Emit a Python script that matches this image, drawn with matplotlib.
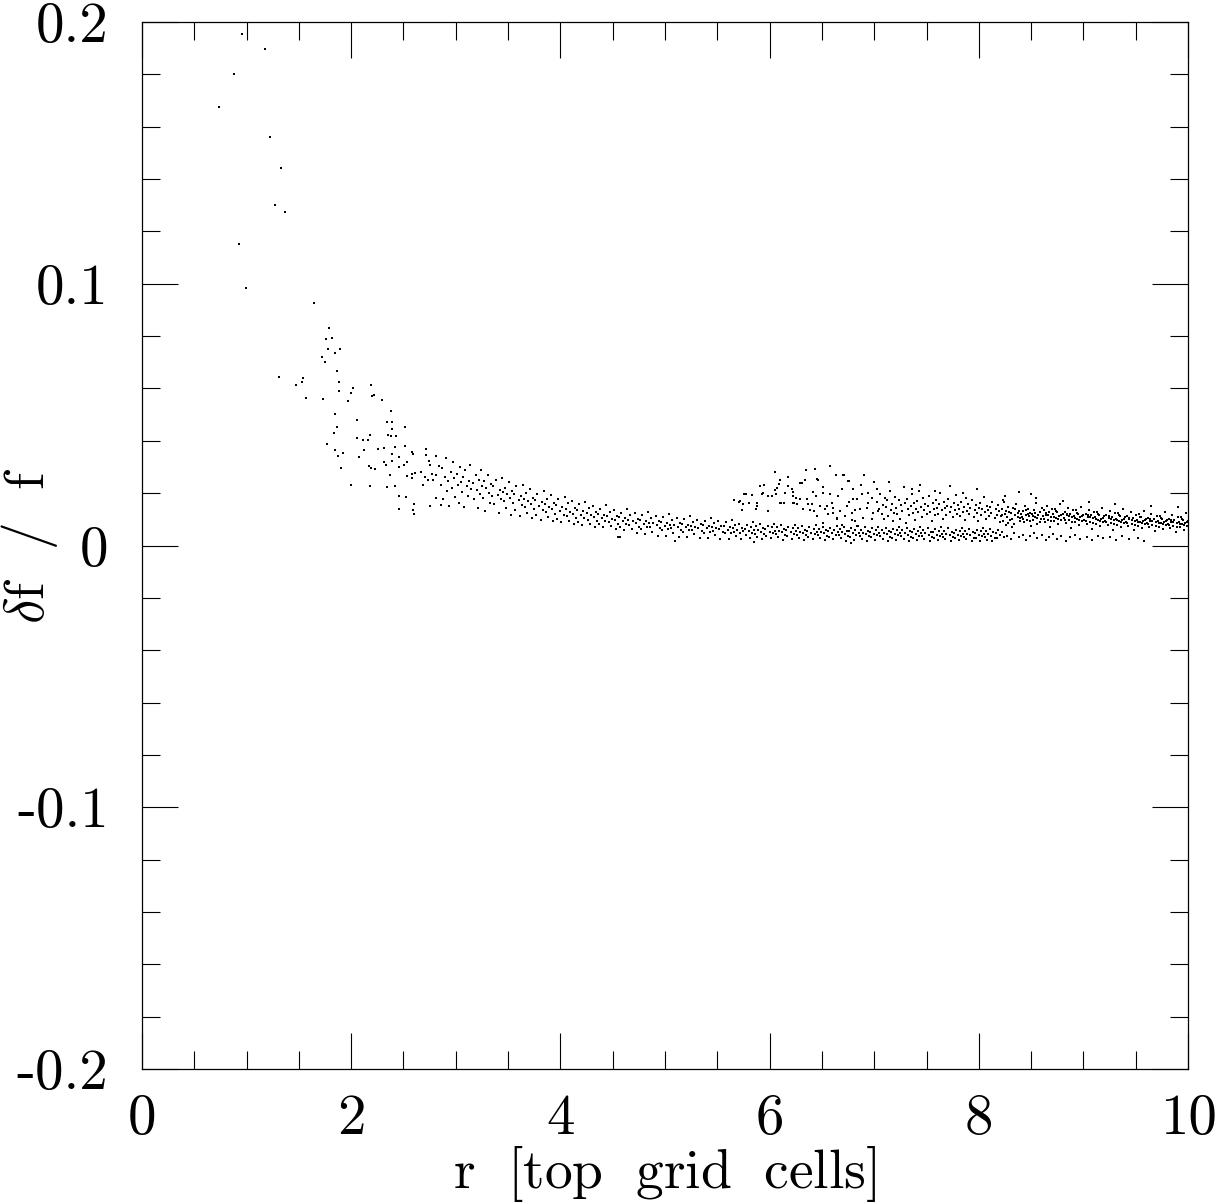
import matplotlib
matplotlib.use("Agg")
import matplotlib.pyplot as plt
from matplotlib.ticker import MultipleLocator, FuncFormatter

# (r, df/f) pairs, grouped by region of the cloud.
steep_tail = [
    (0.956, .1956), (1.176, .1897), (0.882, .1802), (0.733, .1677), (1.221, .1561),
    (1.332, .1444), (1.269, .1302), (1.367, .1276), (0.924, .1153), (0.997, .0983),
    (1.644, .0925), (1.791, .0832), (1.756, .0790), (1.819, .0792), (1.775, .0750),
    (1.893, .0749), (1.842, .0736), (1.721, .0722), (1.750, .0700), (1.867, .0666),
    (1.307, .0644), (1.542, .0641), (1.533, .0625), (1.880, .0623), (1.472, .0615),
    (2.186, .0615), (2.020, .0600), (1.886, .0591), (1.995, .0583), (2.202, .0570),
    (2.221, .0574), (1.565, .0563), (1.727, .0561), (1.970, .0551), (2.294, .0554),
    (2.383, .0515), (1.845, .0503), (2.058, .0479), (2.339, .0471), (2.393, .0473),
    (1.861, .0451), (2.514, .0451), (2.390, .0446), (1.833, .0429), (2.354, .0421),
    (2.381, .0418), (2.425, .0418), (2.056, .0412), (2.113, .0403), (2.164, .0404),
    (2.180, .0423), (1.772, .0388), (2.422, .0376), (2.311, .0373), (2.253, .0367),
    (2.126, .0363), (2.518, .0379), (1.845, .0363), (1.922, .0355), (2.393, .0351),
    (2.578, .0358), (2.711, .0367), (1.877, .0341), (2.075, .0339), (2.459, .0339),
    (2.590, .0351), (2.711, .0344), (2.813, .0341), (2.393, .0321), (2.314, .0320),
    (2.537, .0320), (2.747, .0322), (2.329, .0307), (2.505, .0309), (2.170, .0302),
    (2.189, .0297), (2.231, .0293), (2.457, .0299), (2.753, .0307), (2.839, .0302),
    (1.906, .0298), (2.667, .0282), (2.578, .0275), (2.610, .0278), (2.374, .0270),
    (2.533, .0264), (2.585, .0259), (2.772, .0274), (2.811, .0271), (2.702, .0261),
    (2.731, .0250), (2.779, .0250), (2.001, .0232), (2.177, .0228), (2.345, .0223),
    (2.419, .0229), (2.689, .0230), (2.454, .0190), (2.527, .0185), (2.813, .0181),
    (2.460, .0141), (2.603, .0160), (2.587, .0137), (2.597, .0122), (2.753, .0150),
    (2.858, .0156),
]

inner_band = [
    (2.86, .0231), (2.87, .0296), (2.88, .0178), (2.90, .0262), (2.91, .0334), (2.92, .0209), (2.93, .0247), (2.94, .0152), (2.95, .0281),
    (2.96, .0219), (2.97, .0318), (2.98, .0256), (2.99, .0187), (3.01, .0272), (3.02, .0233), (3.03, .0161), (3.04, .0301), (3.05, .0242),
    (3.06, .0205), (3.07, .0263), (3.08, .0149), (3.09, .0289), (3.11, .0228), (3.12, .0191), (3.13, .0247), (3.14, .0309), (3.15, .0214),
    (3.16, .0238), (3.17, .0176), (3.19, .0271), (3.20, .0213), (3.21, .0144), (3.22, .0252), (3.23, .0195), (3.24, .0289), (3.25, .0226),
    (3.26, .0182), (3.27, .0247), (3.28, .0133), (3.29, .0219), (3.31, .0268), (3.32, .0201), (3.33, .0162), (3.34, .0236), (3.35, .0189),
    (3.36, .0227), (3.37, .0158), (3.38, .0251), (3.40, .0194), (3.41, .0126), (3.42, .0213), (3.43, .0178), (3.44, .0259), (3.45, .0204),
    (3.46, .0169), (3.47, .0221), (3.48, .0142), (3.49, .0196), (3.51, .0243), (3.52, .0181), (3.53, .0118), (3.54, .0208), (3.55, .0163),
    (3.56, .0197), (3.57, .0137), (3.58, .0226), (3.60, .0172), (3.61, .0112), (3.62, .0189), (3.63, .0154), (3.64, .0231), (3.65, .0178),
    (3.66, .0146), (3.67, .0201), (3.68, .0124), (3.69, .0169), (3.71, .0215), (3.72, .0158), (3.73, .0104), (3.74, .0183), (3.75, .0139),
    (3.76, .0173), (3.77, .0117), (3.78, .0198), (3.80, .0151), (3.81, .0099), (3.82, .0166), (3.83, .0134), (3.84, .0207), (3.85, .0158),
    (3.86, .0128), (3.87, .0179), (3.88, .0109), (3.89, .0147), (3.91, .0192), (3.92, .0139), (3.93, .0094), (3.94, .0162), (3.95, .0121),
    (3.96, .0154), (3.97, .0103), (3.98, .0176), (4.00, .0133), (4.01, .0088), (4.02, .0147), (4.03, .0118), (4.04, .0186), (4.05, .0139),
    (4.06, .0112), (4.07, .0161), (4.08, .0095), (4.09, .0129), (4.11, .0171), (4.12, .0122), (4.13, .0083), (4.14, .0143), (4.15, .0106),
    (4.16, .0137), (4.17, .0091), (4.18, .0158), (4.20, .0117), (4.21, .0079), (4.22, .0131), (4.23, .0104), (4.24, .0168), (4.25, .0124),
    (4.26, .0099), (4.27, .0144), (4.28, .0084), (4.29, .0115), (4.31, .0152), (4.32, .0108), (4.33, .0072), (4.34, .0127), (4.35, .0094),
    (4.36, .0122), (4.37, .0081), (4.38, .0141), (4.40, .0104), (4.41, .0069), (4.42, .0117), (4.43, .0092), (4.44, .0153), (4.45, .0111),
    (4.46, .0088), (4.47, .0128), (4.48, .0074), (4.49, .0102), (4.51, .0137), (4.52, .0096), (4.53, .0063), (4.54, .0113), (4.55, .0083),
    (4.56, .0109), (4.57, .0071), (4.58, .0126), (4.60, .0092), (4.61, .0058), (4.62, .0104), (4.63, .0081), (4.64, .0139), (4.65, .0098),
    (4.66, .0079), (4.67, .0115), (4.68, .0062), (4.69, .0093), (4.71, .0124), (4.72, .0086), (4.73, .0049), (4.74, .0101), (4.75, .0072),
    (4.76, .0097), (4.77, .0064), (4.78, .0117), (4.80, .0083), (4.81, .0043), (4.82, .0092), (4.83, .0070), (4.84, .0129), (4.85, .0087),
    (4.86, .0071), (4.87, .0104), (4.88, .0053), (4.89, .0085), (4.91, .0114), (4.92, .0078), (4.93, .0038), (4.94, .0093), (4.95, .0066),
    (4.96, .0089), (4.97, .0058), (4.98, .0108), (5.00, .0076), (5.01, .0036), (5.02, .0085), (5.03, .0063), (5.04, .0119), (5.05, .0080),
    (5.06, .0066), (5.07, .0096), (5.08, .0047), (5.09, .0078), (5.11, .0106), (5.12, .0071), (5.13, .0033), (5.14, .0087), (5.15, .0060),
    (5.16, .0083), (5.17, .0053), (5.18, .0101), (5.20, .0070), (5.21, .0031), (5.22, .0079), (5.23, .0058), (5.24, .0113), (5.25, .0075),
    (5.26, .0061), (5.27, .0090), (5.28, .0043), (5.29, .0072), (5.31, .0099), (5.32, .0066), (5.33, .0029), (5.34, .0081), (5.35, .0055),
    (5.36, .0078), (5.37, .0049), (5.38, .0095), (5.40, .0065), (5.41, .0028), (5.42, .0074), (5.43, .0053), (5.44, .0106), (5.45, .0070),
    (5.46, .0057), (5.47, .0085), (5.48, .0040), (5.49, .0067), (5.51, .0093), (5.52, .0062), (5.53, .0026), (5.54, .0076), (5.55, .0051),
    (5.56, .0073), (5.57, .0046), (5.58, .0089), (5.60, .0061), (5.61, .0025), (5.62, .0069), (5.63, .0049), (5.64, .0099), (5.65, .0066),
    (4.55, .0031), (4.57, .0033), (5.10, .0019),
]

lower_band = [
    (5.66, .0052), (5.67, .0078), (5.68, .0036), (5.69, .0061), (5.71, .0084), (5.72, .0047), (5.73, .0024), (5.74, .0068), (5.75, .0055),
    (5.76, .0064), (5.77, .0041), (5.78, .0080), (5.80, .0056), (5.81, .0029), (5.82, .0071), (5.83, .0049), (5.84, .0089), (5.85, .0060),
    (5.86, .0045), (5.87, .0073), (5.88, .0033), (5.89, .0058), (5.91, .0081), (5.92, .0052), (5.93, .0023), (5.94, .0066), (5.95, .0043),
    (5.96, .0062), (5.97, .0038), (5.98, .0076), (6.00, .0053), (6.01, .0027), (6.02, .0069), (6.03, .0047), (6.04, .0084), (6.05, .0057),
    (6.06, .0043), (6.07, .0070), (6.08, .0031), (6.09, .0055), (6.11, .0078), (6.12, .0050), (6.13, .0022), (6.14, .0063), (6.15, .0041),
    (6.16, .0059), (6.17, .0036), (6.18, .0072), (6.20, .0051), (6.21, .0025), (6.22, .0066), (6.23, .0045), (6.24, .0080), (6.25, .0054),
    (6.26, .0041), (6.27, .0067), (6.28, .0029), (6.29, .0053), (6.31, .0075), (6.32, .0048), (6.33, .0021), (6.34, .0060), (6.35, .0039),
    (6.36, .0057), (6.37, .0034), (6.38, .0069), (6.40, .0049), (6.41, .0024), (6.42, .0063), (6.43, .0043), (6.44, .0077), (6.45, .0052),
    (6.46, .0040), (6.47, .0064), (6.48, .0028), (6.49, .0051), (6.51, .0072), (6.52, .0046), (6.53, .0020), (6.54, .0058), (6.55, .0037),
    (6.56, .0055), (6.57, .0033), (6.58, .0067), (6.60, .0047), (6.61, .0023), (6.62, .0061), (6.63, .0042), (6.64, .0074), (6.65, .0050),
    (6.66, .0039), (6.67, .0062), (6.68, .0027), (6.69, .0050), (6.71, .0070), (6.72, .0045), (6.73, .0019), (6.74, .0057), (6.75, .0036),
    (6.76, .0054), (6.77, .0032), (6.78, .0066), (6.80, .0046), (6.81, .0022), (6.82, .0060), (6.83, .0041), (6.84, .0073), (6.85, .0049),
    (6.86, .0038), (6.87, .0061), (6.88, .0026), (6.89, .0049), (6.91, .0069), (6.92, .0044), (6.93, .0019), (6.94, .0056), (6.95, .0035),
    (6.96, .0053), (6.97, .0031), (6.98, .0065), (7.00, .0045), (7.01, .0022), (7.02, .0059), (7.03, .0040), (7.04, .0072), (7.05, .0048),
    (7.06, .0037), (7.07, .0060), (7.08, .0025), (7.09, .0048), (7.11, .0068), (7.12, .0043), (7.13, .0018), (7.14, .0055), (7.15, .0034),
    (7.16, .0052), (7.17, .0030), (7.18, .0064), (7.20, .0044), (7.21, .0021), (7.22, .0058), (7.23, .0039), (7.24, .0071), (7.25, .0047),
    (7.26, .0036), (7.27, .0059), (7.28, .0025), (7.29, .0047), (7.31, .0067), (7.32, .0042), (7.33, .0018), (7.34, .0054), (7.35, .0033),
    (7.36, .0051), (7.37, .0030), (7.38, .0063), (7.40, .0043), (7.41, .0021), (7.42, .0057), (7.43, .0038), (7.44, .0070), (7.45, .0046),
    (7.46, .0035), (7.47, .0058), (7.48, .0024), (7.49, .0046), (7.51, .0066), (7.52, .0041), (7.53, .0018), (7.54, .0053), (7.55, .0032),
    (7.56, .0050), (7.57, .0029), (7.58, .0062), (7.60, .0042), (7.61, .0020), (7.62, .0056), (7.63, .0037), (7.64, .0069), (7.65, .0045),
    (7.66, .0034), (7.67, .0057), (7.68, .0023), (7.69, .0045), (7.71, .0065), (7.72, .0040), (7.73, .0017), (7.74, .0052), (7.75, .0031),
    (7.76, .0049), (7.77, .0028), (7.78, .0061), (7.80, .0041), (7.81, .0020), (7.82, .0055), (7.83, .0036), (7.84, .0068), (7.85, .0044),
    (7.86, .0033), (7.87, .0056), (7.88, .0023), (7.89, .0044), (7.91, .0064), (7.92, .0039), (7.93, .0017), (7.94, .0051), (7.95, .0030),
    (7.96, .0048), (7.97, .0028), (7.98, .0060), (8.00, .0040), (8.01, .0019), (8.02, .0054), (8.03, .0035), (8.04, .0067), (8.05, .0043),
    (8.06, .0032), (8.07, .0055), (8.08, .0022), (8.09, .0043), (8.11, .0063), (8.12, .0038), (8.13, .0017), (8.14, .0050), (8.15, .0029),
    (8.16, .0047), (8.17, .0027), (8.18, .0059), (8.20, .0039), (8.22, .0053), (8.24, .0034),
    (8.27, .0036), (8.31, .0024), (8.34, .0047), (8.38, .0031), (8.42, .0042), (8.45, .0022), (8.49, .0035),
    (8.53, .0046), (8.56, .0028), (8.60, .0039), (8.64, .0021), (8.67, .0033), (8.71, .0044), (8.75, .0026),
    (8.79, .0037), (8.83, .0019), (8.87, .0031), (8.92, .0041), (8.97, .0024), (9.03, .0034), (9.08, .0020),
    (9.14, .0038), (9.19, .0027), (9.25, .0031), (9.31, .0022), (9.37, .0036), (9.44, .0025), (9.52, .0030),
    (9.58, .0019), (5.85, .0012), (6.78, .0011),
]

hump = [
    (5.663, .0173), (5.711, .0166), (5.755, .0195), (5.775, .0195), (5.832, .0193), (5.733, .0135),
    (5.743, .0159), (5.800, .0163), (5.870, .0138), (5.883, .0163), (5.908, .0227), (5.924, .0198),
    (5.947, .0231), (5.988, .0189), (5.988, .0131), (6.020, .0189), (6.055, .0212), (6.061, .0198),
    (6.074, .0218), (6.052, .0280), (6.093, .0235), (6.100, .0252), (6.106, .0161), (6.138, .0161),
    (6.151, .0201), (6.179, .0261), (6.179, .0229), (6.211, .0214), (6.221, .0204), (6.227, .0189),
    (6.234, .0161), (6.253, .0182), (6.259, .0157), (6.291, .0176), (6.307, .0240), (6.316, .0138),
    (6.339, .0252), (6.348, .0288), (6.355, .0176), (6.371, .0157), (5.717, .0169), (5.940, .0201),
    (6.290, .0240), (6.434, .0293), (6.466, .0252), (6.514, .0201), (6.635, .0268), (6.705, .0268),
    (6.689, .0214), (6.753, .0246), (6.800, .0176), (6.609, .0125), (6.545, .0150), (6.386, .0137),
    (6.450, .0112), (6.737, .0150), (6.816, .0137), (6.641, .0106), (6.785, .0099), (6.099, .0163),
    (6.227, .0163), (5.876, .0150), (5.733, .0137), (6.577, .0303), (6.714, .0268), (6.456, .0255),
    (6.762, .0246), (6.902, .0268), (6.870, .0233), (6.998, .0242), (6.513, .0224), (6.418, .0204),
    (6.443, .0189), (6.577, .0195), (6.657, .0189), (6.800, .0214), (6.832, .0176), (6.880, .0195),
    (6.944, .0201), (6.976, .0182), (7.023, .0217), (6.402, .0157), (6.482, .0150), (6.529, .0138),
    (6.609, .0144), (6.673, .0131), (6.737, .0150), (6.784, .0125), (6.864, .0138), (6.928, .0144),
    (6.991, .0125), (6.450, .0112), (6.561, .0119), (6.641, .0100), (6.721, .0112), (6.816, .0093),
    (6.896, .0106), (6.976, .0100), (6.513, .0087), (6.689, .0080), (6.848, .0074), (6.424, .0131),
    (6.593, .0163), (6.762, .0166), (6.944, .0163),
]

upper_band = [
    (7.03, .0168), (7.05, .0141), (7.06, .0197), (7.07, .0122), (7.08, .0155), (7.09, .0103), (7.10, .0182), (7.04, .0131),
    (7.11, .0149), (7.12, .0175), (7.13, .0112), (7.15, .0208), (7.16, .0137), (7.17, .0160), (7.18, .0093), (7.19, .0126), (7.20, .0186),
    (7.21, .0143), (7.22, .0119), (7.24, .0172), (7.25, .0101), (7.26, .0156), (7.27, .0132), (7.28, .0223), (7.29, .0164), (7.30, .0087),
    (7.31, .0178), (7.32, .0138), (7.33, .0115), (7.35, .0151), (7.36, .0196), (7.37, .0124), (7.38, .0162), (7.39, .0097), (7.40, .0141),
    (7.41, .0169), (7.42, .0129), (7.43, .0210), (7.45, .0146), (7.46, .0108), (7.47, .0181), (7.48, .0135), (7.49, .0158), (7.50, .0119),
    (7.51, .0151), (7.52, .0188), (7.53, .0127), (7.55, .0094), (7.56, .0163), (7.57, .0139), (7.58, .0116), (7.59, .0174), (7.60, .0145),
    (7.61, .0122), (7.62, .0157), (7.63, .0199), (7.65, .0134), (7.66, .0103), (7.67, .0168), (7.68, .0144), (7.69, .0118), (7.70, .0150),
    (7.71, .0176), (7.72, .0128), (7.73, .0147), (7.75, .0109), (7.76, .0161), (7.77, .0136), (7.78, .0192), (7.79, .0121), (7.80, .0153),
    (7.81, .0139), (7.82, .0113), (7.83, .0166), (7.85, .0127), (7.86, .0149), (7.87, .0098), (7.88, .0181), (7.89, .0133), (7.90, .0158),
    (7.91, .0121), (7.92, .0145), (7.93, .0172), (7.95, .0108), (7.96, .0137), (7.97, .0155), (7.98, .0126), (7.99, .0092), (8.00, .0143),
    (8.01, .0163), (8.02, .0118), (8.03, .0139), (8.05, .0185), (8.06, .0129), (8.07, .0101), (8.08, .0150), (8.09, .0134), (8.10, .0112),
    (8.11, .0147), (8.12, .0125), (8.13, .0168), (8.15, .0106), (8.16, .0139), (8.17, .0118), (8.18, .0156), (8.19, .0131), (8.20, .0091),
    (7.14, .0241), (7.44, .0232), (7.72, .0226), (7.36, .0215), (7.98, .0214), (7.58, .0207), (7.85, .0202),
]

outer_band = [
    (8.21, .0112), (8.22, .0138), (8.23, .0094), (8.24, .0165), (8.25, .0121), (8.26, .0079), (8.27, .0107), (8.28, .0149), (8.29, .0128), (8.30, .0099), (8.22, .0117), (8.26, .0132), (8.28, .0086), (8.23, .0174),
    (8.31, .0125), (8.32, .0101), (8.33, .0143), (8.34, .0084), (8.35, .0116), (8.36, .0160), (8.37, .0109), (8.38, .0133), (8.39, .0092), (8.40, .0120), (8.32, .0069), (8.35, .0139), (8.37, .0124), (8.39, .0105),
    (8.41, .0108), (8.42, .0131), (8.43, .0088), (8.44, .0152), (8.45, .0117), (8.46, .0097), (8.47, .0140), (8.48, .0111), (8.49, .0126), (8.50, .0074), (8.42, .0102), (8.45, .0135), (8.47, .0120), (8.49, .0093),
    (8.51, .0121), (8.52, .0096), (8.53, .0137), (8.54, .0109), (8.55, .0162), (8.56, .0083), (8.57, .0115), (8.58, .0129), (8.59, .0101), (8.60, .0144), (8.52, .0113), (8.54, .0126), (8.56, .0104), (8.58, .0091),
    (8.61, .0112), (8.62, .0134), (8.63, .0089), (8.64, .0118), (8.65, .0150), (8.66, .0099), (8.67, .0127), (8.68, .0071), (8.69, .0108), (8.70, .0139), (8.62, .0103), (8.64, .0124), (8.66, .0115), (8.69, .0094),
    (8.71, .0119), (8.72, .0092), (8.73, .0141), (8.74, .0106), (8.75, .0128), (8.76, .0081), (8.77, .0113), (8.78, .0157), (8.79, .0098), (8.80, .0122), (8.72, .0110), (8.74, .0131), (8.76, .0101), (8.79, .0117),
    (8.81, .0104), (8.82, .0127), (8.83, .0087), (8.84, .0115), (8.85, .0143), (8.86, .0096), (8.87, .0121), (8.88, .0068), (8.89, .0109), (8.90, .0134), (8.82, .0099), (8.84, .0120), (8.86, .0112), (8.89, .0090),
    (8.91, .0113), (8.92, .0088), (8.93, .0135), (8.94, .0101), (8.95, .0122), (8.96, .0077), (8.97, .0108), (8.98, .0149), (8.99, .0094), (9.00, .0117), (8.92, .0105), (8.94, .0125), (8.96, .0097), (8.99, .0111),
    (9.01, .0099), (9.02, .0121), (9.03, .0083), (9.04, .0110), (9.05, .0137), (9.06, .0091), (9.07, .0115), (9.08, .0064), (9.09, .0104), (9.10, .0128), (9.02, .0094), (9.04, .0116), (9.06, .0107), (9.09, .0086),
    (9.11, .0108), (9.12, .0084), (9.13, .0129), (9.14, .0097), (9.15, .0117), (9.16, .0073), (9.17, .0103), (9.18, .0143), (9.19, .0090), (9.20, .0112), (9.12, .0100), (9.14, .0120), (9.16, .0093), (9.19, .0106),
    (9.21, .0095), (9.22, .0116), (9.23, .0079), (9.24, .0105), (9.25, .0132), (9.26, .0087), (9.27, .0110), (9.28, .0061), (9.29, .0099), (9.30, .0123), (9.22, .0090), (9.24, .0111), (9.26, .0102), (9.29, .0083),
    (9.31, .0103), (9.32, .0080), (9.33, .0124), (9.34, .0093), (9.35, .0112), (9.36, .0069), (9.37, .0098), (9.38, .0138), (9.39, .0086), (9.40, .0107), (9.32, .0096), (9.34, .0115), (9.36, .0089), (9.39, .0101),
    (9.41, .0091), (9.42, .0111), (9.43, .0075), (9.44, .0100), (9.45, .0127), (9.46, .0083), (9.47, .0105), (9.48, .0058), (9.49, .0094), (9.50, .0118), (9.42, .0086), (9.44, .0106), (9.46, .0097), (9.49, .0079),
    (9.51, .0098), (9.52, .0076), (9.53, .0119), (9.54, .0089), (9.55, .0107), (9.56, .0065), (9.57, .0093), (9.58, .0133), (9.59, .0082), (9.60, .0102), (9.52, .0091), (9.54, .0110), (9.56, .0085), (9.59, .0096),
    (9.61, .0087), (9.62, .0106), (9.63, .0071), (9.64, .0095), (9.65, .0122), (9.66, .0079), (9.67, .0100), (9.68, .0055), (9.69, .0090), (9.70, .0113), (9.62, .0082), (9.64, .0101), (9.66, .0092), (9.69, .0075),
    (9.71, .0094), (9.72, .0072), (9.73, .0114), (9.74, .0085), (9.75, .0102), (9.76, .0062), (9.77, .0089), (9.78, .0128), (9.79, .0078), (9.80, .0097), (9.72, .0087), (9.74, .0106), (9.76, .0081), (9.79, .0092),
    (9.81, .0083), (9.82, .0101), (9.83, .0068), (9.84, .0091), (9.85, .0117), (9.86, .0075), (9.87, .0096), (9.88, .0052), (9.89, .0086), (9.90, .0108), (9.82, .0079), (9.84, .0097), (9.86, .0088), (9.89, .0071),
    (9.91, .0090), (9.92, .0069), (9.93, .0110), (9.94, .0081), (9.95, .0098), (9.96, .0059), (9.97, .0085), (9.98, .0123), (9.99, .0075), (9.995, .0093), (9.92, .0084), (9.94, .0102), (9.96, .0077), (9.99, .0088),
    (8.25, .0190), (8.55, .0181), (8.50, .0195), (8.80, .0170), (9.05, .0165), (9.30, .0160), (9.65, .0150), (9.90, .0148), (8.38, .0205),
]

x_ticks = [0, 2, 4, 6, 8, 10]
y_ticks = [-0.2, -0.1, 0.0, 0.1, 0.2]

plt.rcParams["mathtext.fontset"] = "cm"
plt.rcParams["axes.unicode_minus"] = False

fig = plt.figure(figsize=(12.3, 12.03), dpi=100)
ax = fig.add_axes([0.1154, 0.1114, 0.8505, 0.8703])

pts = steep_tail + inner_band + lower_band + hump + upper_band + outer_band
r_vals = [p[0] for p in pts]
df_vals = [p[1] for p in pts]
ax.scatter(r_vals, df_vals, s=2.2, marker="s", c="black", linewidths=0)

ax.set_xlim(0, 10)
ax.set_ylim(-0.2, 0.2)

ax.set_xticks(x_ticks)
ax.set_yticks(y_ticks)
ax.xaxis.set_minor_locator(MultipleLocator(0.5))
ax.yaxis.set_minor_locator(MultipleLocator(0.02))


def _xfmt(v, _pos):
    return "%d" % round(v)


def _yfmt(v, _pos):
    if abs(v) < 1e-9:
        return "0"
    return "%.1f" % v   # plain hyphen, short like the original


ax.xaxis.set_major_formatter(FuncFormatter(_xfmt))
ax.yaxis.set_major_formatter(FuncFormatter(_yfmt))

ax.tick_params(which="both", direction="in", top=True, right=True, color="black", width=0.8)
ax.tick_params(which="major", length=26)
ax.tick_params(which="minor", length=13)
ax.tick_params(axis="x", which="major", labelsize=41, pad=18, labelfontfamily="cmr10")
ax.tick_params(axis="y", which="major", labelsize=41, pad=24, labelfontfamily="cmr10")

for sp in ax.spines.values():
    sp.set_linewidth(0.9)
    sp.set_color("black")

ax.set_xlabel(r"$\mathrm{r\ \ [top\ \ grid\ \ cells]}$", fontsize=40)
ax.xaxis.set_label_coords(0.5, -0.072)
ax.set_ylabel(r"$\delta\mathrm{f\ \ /\ \ f}$", fontsize=40)
ax.yaxis.set_label_coords(-0.078, 0.5)

fig.savefig("out.png", dpi=100, facecolor="white")
